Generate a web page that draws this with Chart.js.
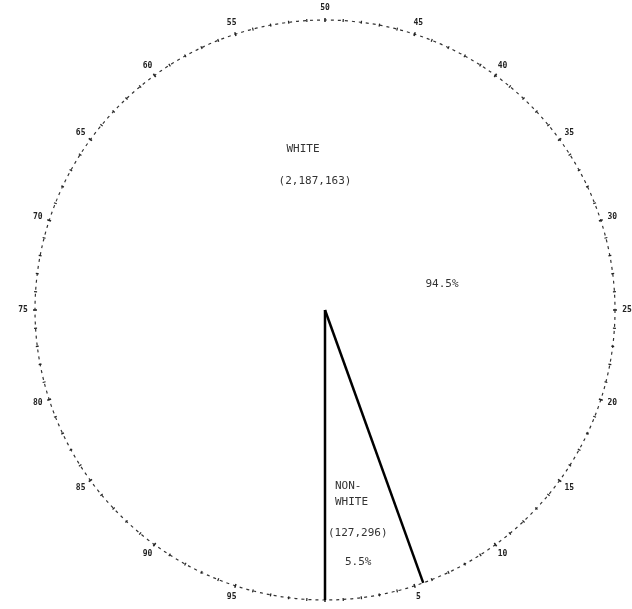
<!DOCTYPE html>
<html lang="en">
<head>
  <meta charset="UTF-8" />
  <title>White / Non-white pie</title>
  <script src="https://cdn.jsdelivr.net/npm/chart.js"></script>
  <style>
    * { margin: 0; padding: 0; box-sizing: border-box; }
    body { background: #fff; width: 632px; height: 609px; overflow: hidden; }
    #wrap { width: 632px; height: 609px; }
  </style>
</head>
<body>
  <div id="wrap"><canvas id="pie"></canvas></div>
  <script>
    // data
    const groups = ['NON-WHITE', 'WHITE'];
    const shares = [5.5, 94.5];
    const counts = ['(127,296)', '(2,187,163)'];
    const tickLabels = ['5','10','15','20','25','30','35','40','45','50','55','60','65','70','75','80','85','90','95'];

    // percent scale runs counter-clockwise from the bottom, so the first slice ends at 180deg
    const rotation = 180 - 360 * shares[0] / 100;

    const ink = '#222';

    const dialPlugin = {
      id: 'dial',
      afterDatasetsDraw(chart) {
        const ctx = chart.ctx;
        const arcs = chart.getDatasetMeta(0).data;
        const cx = arcs[0].x, cy = arcs[0].y, r = arcs[0].outerRadius;
        // position on the dial for a percent value (0 at bottom, counter-clockwise)
        const at = (pct, rad) => {
          const a = Math.PI / 2 - pct / 100 * 2 * Math.PI;
          return [cx + rad * Math.cos(a), cy + rad * Math.sin(a)];
        };
        ctx.save();
        // dotted rim
        ctx.strokeStyle = '#333';
        ctx.lineWidth = 1.2;
        ctx.setLineDash([3, 4]);
        ctx.beginPath();
        ctx.arc(cx, cy, r, 0, Math.PI * 2);
        ctx.stroke();
        ctx.setLineDash([]);
        // small ticks each percent
        ctx.strokeStyle = '#222';
        for (let p = 0; p < 100; p++) {
          const len = p % 5 === 0 ? 4 : 3;
          const [x1, y1] = at(p, r - len / 2);
          const [x2, y2] = at(p, r + len / 2);
          ctx.lineWidth = p % 5 === 0 ? 1.5 : 1.2;
          ctx.beginPath();
          ctx.moveTo(x1, y1);
          ctx.lineTo(x2, y2);
          ctx.stroke();
        }
        // percent labels
        ctx.fillStyle = ink;
        ctx.font = 'bold 8px "DejaVu Sans Mono", monospace';
        ctx.textAlign = 'center';
        ctx.textBaseline = 'middle';
        tickLabels.forEach(t => {
          const [x, y] = at(+t, r + 12);
          ctx.fillText(t, x, y);
        });
        // slice edges: radial lines only
        ctx.strokeStyle = '#000';
        ctx.lineWidth = 2.5;
        const first = arcs[0];
        [first.startAngle, first.endAngle].forEach(a => {
          ctx.beginPath();
          ctx.moveTo(cx, cy);
          ctx.lineTo(cx + r * Math.cos(a), cy + r * Math.sin(a));
          ctx.stroke();
        });
        // slice text
        ctx.font = '11px "DejaVu Sans Mono", monospace';
        ctx.fillStyle = '#333';
        ctx.textAlign = 'left';
        // non-white, inside the thin slice
        ctx.fillText('NON-', cx + 10, cy + 0.608 * r);
        ctx.fillText(groups[0].slice(4), cx + 10, cy + 0.663 * r);
        ctx.fillText(counts[0], cx + 3, cy + 0.768 * r);
        ctx.fillText(shares[0] + '%', cx + 20, cy + 0.87 * r);
        // white
        ctx.textAlign = 'center';
        ctx.fillText(groups[1], cx - 22, cy - 0.555 * r);
        ctx.fillText(counts[1], cx - 10, cy - 0.445 * r);
        ctx.fillText(shares[1] + '%', cx + 117, cy - 0.09 * r);
        ctx.restore();
      }
    };

    new Chart(document.getElementById('pie'), {
      type: 'pie',
      data: {
        labels: groups,
        datasets: [{
          data: shares,
          backgroundColor: ['#fff', '#fff'],
          borderWidth: 0
        }]
      },
      options: {
        responsive: true,
        maintainAspectRatio: false,
        animation: false,
        rotation: rotation,
        layout: { padding: { left: 35, right: 17, top: 18, bottom: 7 } },
        plugins: {
          legend: { display: false },
          tooltip: { enabled: false }
        }
      },
      plugins: [dialPlugin]
    });
  </script>
</body>
</html>
